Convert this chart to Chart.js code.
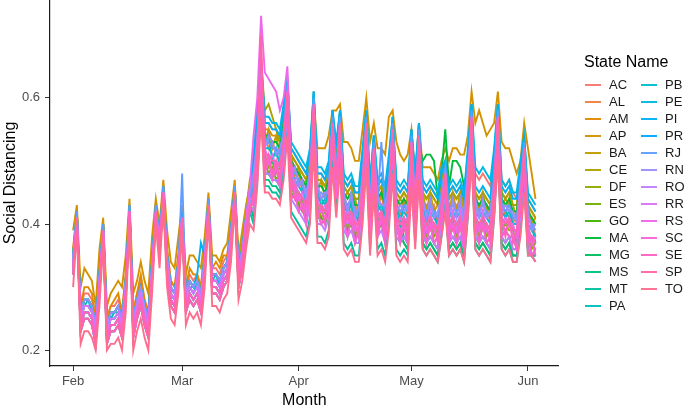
<!DOCTYPE html>
<html>
<head>
<meta charset="utf-8">
<script src="https://cdn.jsdelivr.net/npm/chart.js@4.4.1/dist/chart.umd.min.js"></script>
<style>
  html, body { margin: 0; padding: 0; background: #ffffff; }
  #wrap { width: 685px; height: 412px; position: relative; }
</style>
</head>
<body>
<div id="wrap"><canvas id="c" width="685" height="412"></canvas></div>
<script>
// Daily social distancing index (in percent), Feb 1 2020 (day 0) to Jun 3 2020 (day 123)
const stateNames = ['AC','AL','AM','AP','BA','CE','DF','ES','GO','MA','MG','MS','MT','PA',
                    'PB','PE','PI','PR','RJ','RN','RO','RR','RS','SC','SE','SP','TO'];
const tickDays = [0, 29, 60, 90, 121];
const tickLabels = ['Feb', 'Mar', 'Apr', 'May', 'Jun'];
const yTicks = [0.2, 0.4, 0.6];

const AC = [36,42,27,29,29,28,25,33,40,25, 27,27,28,26,32,43,26,29,31,28, 26,35,43,39,46,36,31,30,35,42, 30,32,31,32,30,36,44,33,33,32, 34,35,40,46,34,37,42,46,
  50,57,65,56,56,55,55,54,58,62, 52,51,50,49,48,51,60,48,48,47, 49,57,52,57,47,46,47,45,45,51, 57,46,53,46,47,45,50,56,46,45, 46,45,54,47,55,46,45,46,45,44, 48,49,45,46,45,46,44,51,58,48, 47,48,47,46,51,58,47,46,47,45, 44,49,53,44,43,42];
const AL = [35,42,26,28,28,27,24,32,40,24, 26,26,27,25,31,43,25,28,30,27, 25,34,43,38,46,35,30,29,34,42, 29,31,30,31,29,35,44,32,32,31, 33,34,39,46,33,36,41,45,
  46,55,63,54,52,53,51,52,56,60, 50,47,48,45,46,47,58,46,44,45, 45,57,48,55,45,42,43,43,41,49, 55,44,51,42,45,41,48,54,44,41, 44,41,52,43,55,42,43,42,43,40, 46,47,43,42,43,42,42,47,58,42, 43,42,43,40,49,56,44,41,44,40, 42,45,53,40,41,38];
const AM = [36,42,27,30,30,29,25,33,40,25, 27,28,29,26,32,43,26,29,32,28, 26,35,43,39,46,36,31,30,35,42, 30,33,32,32,30,36,44,33,34,33, 35,35,40,46,34,37,42,46,
  49,56,65,55,55,54,54,53,57,62, 51,50,49,48,47,50,60,47,47,46, 48,57,51,57,46,45,46,44,44,50, 57,45,53,45,46,44,49,56,45,44, 45,44,54,46,55,45,44,45,44,43, 47,49,44,45,44,45,43,50,58,45, 44,45,44,43,50,58,45,44,45,43, 43,48,53,43,42,41];
const AP = [39,43,30,33,32,31,27,36,41,27, 29,30,31,30,35,44,29,31,34,31, 29,38,44,40,47,39,34,33,38,43, 32,35,35,34,33,38,45,35,35,34, 36,37,42,47,35,39,43,46,
  48,53,62,53,53,52,52,51,55,61, 50,49,48,47,46,50,60,52,52,52, 54,58,58,59,53,53,52,50,50,55, 60,53,56,52,52,51,57,58,53,51, 50,51,55,48,56,49,49,49,48,47, 50,52,50,52,52,51,51,54,61,56, 58,56,54,55,56,61,53,52,52,50, 48,50,56,52,48,44];
const BA = [35,41,26,28,28,27,24,32,39,24, 26,26,27,25,31,42,25,28,30,27, 25,34,42,38,45,35,30,29,34,41, 29,31,30,31,29,35,43,32,32,31, 33,34,39,45,33,36,41,45,
  49,54,65,53,55,52,54,51,57,60, 51,48,49,46,47,48,60,45,47,44, 48,55,51,57,44,45,44,44,42,50, 55,45,51,45,44,44,47,56,43,44, 43,44,52,46,53,45,42,45,42,43, 45,49,42,45,42,45,41,50,56,45, 42,45,42,43,48,58,43,44,43,43, 41,48,51,43,40,41];
const CE = [35,42,26,28,28,27,24,32,40,24, 26,26,27,25,31,43,25,28,30,27, 25,34,43,38,46,35,30,29,34,42, 29,31,30,31,29,35,44,32,32,31, 33,34,39,46,33,37,42,47,
  49,56,66,58,59,57,55,53,57,63, 51,50,49,48,47,50,61,47,47,46, 48,58,51,58,46,45,46,44,44,50, 58,45,54,45,46,44,49,57,45,44, 45,44,55,46,56,45,44,45,44,43, 47,50,44,45,44,45,43,50,59,45, 44,45,44,43,50,59,45,44,45,43, 43,48,54,43,42,41];
const DF = [34,41,25,27,27,26,23,31,39,23, 25,25,26,24,30,42,24,27,29,26, 24,33,42,37,45,34,29,28,33,41, 28,30,29,30,28,34,43,31,31,30, 32,33,38,45,32,35,40,44,
  45,50,62,51,49,50,48,49,51,61, 45,46,43,44,41,46,57,43,41,42, 42,56,45,54,42,39,42,38,40,44, 56,39,52,41,40,40,43,55,39,40, 39,40,51,42,52,41,38,41,38,39, 41,48,38,41,38,41,37,46,55,41, 38,41,38,39,44,57,39,40,39,39, 37,44,50,39,36,37];
const ES = [33,40,24,26,26,25,22,30,38,22, 24,24,25,23,29,41,23,26,28,25, 23,32,41,36,44,33,28,27,32,40, 27,29,28,29,27,33,42,30,30,29, 31,32,37,44,31,34,39,43,
  42,51,60,50,48,49,47,48,50,59, 44,45,42,43,40,45,55,42,40,41, 41,54,44,52,41,38,41,37,39,43, 54,38,50,38,41,37,44,51,40,37, 40,37,49,41,50,40,37,40,37,38, 40,46,37,40,37,40,36,45,53,40, 37,40,37,38,43,55,38,39,38,38, 36,43,48,38,35,36];
const GO = [33,41,24,26,26,25,22,30,39,22, 24,24,25,23,29,42,23,26,28,25, 23,32,42,36,45,33,28,27,32,41, 27,29,28,29,27,33,43,30,30,29, 31,32,37,45,31,34,39,43,
  42,49,61,48,48,47,47,46,50,58, 45,44,43,42,41,44,56,41,41,40, 42,53,45,53,40,39,40,38,38,44, 53,39,49,39,40,38,43,52,39,38, 37,36,49,38,50,37,36,37,36,35, 39,44,36,37,36,37,35,42,53,37, 36,37,36,35,42,53,37,36,37,35, 35,40,48,36,35,35];
const MA = [35,41,26,28,28,27,24,32,39,24, 26,26,27,25,31,42,25,28,30,27, 25,34,42,38,45,35,30,29,34,41, 29,31,30,31,29,35,43,32,32,31, 33,34,39,45,33,36,41,45,
  48,55,63,54,54,53,53,52,56,60, 50,49,48,47,46,49,58,46,46,45, 47,55,50,55,45,44,45,43,43,49, 55,44,51,44,45,43,48,54,44,43, 44,43,52,45,53,50,51,51,50,44, 48,55,46,50,50,49,46,49,56,44, 43,44,43,42,49,56,44,43,44,42, 42,47,51,42,41,40];
const MG = [33,40,24,26,26,25,22,30,38,22, 24,24,25,23,29,41,23,26,28,25, 23,32,41,36,44,33,28,27,32,40, 27,29,28,29,27,33,42,30,30,29, 31,32,37,44,31,34,39,43,
  42,49,60,48,48,47,47,46,50,57, 47,46,45,44,43,46,56,43,43,42, 44,53,47,53,42,41,42,40,40,46, 53,41,49,41,42,40,45,52,41,40, 38,37,49,39,50,38,37,38,37,36, 40,44,37,38,37,38,36,43,53,38, 37,38,37,36,43,53,38,37,38,36, 36,41,48,36,35,34];
const MS = [33,41,24,26,26,25,22,30,39,22, 24,24,25,23,29,42,23,26,28,25, 23,32,42,36,45,33,28,27,32,41, 27,29,28,29,27,33,43,30,30,29, 31,32,37,45,31,34,39,43,
  41,48,59,47,47,46,46,45,49,56, 46,45,44,43,42,45,56,42,42,41, 43,53,46,53,41,40,41,39,39,45, 53,40,49,40,41,39,44,52,40,39, 37,36,48,38,49,37,36,37,36,35, 39,43,36,37,36,37,35,42,52,37, 36,37,36,35,42,52,37,36,37,35, 35,40,47,36,35,35];
const MT = [32,40,23,25,25,24,21,29,38,21, 23,23,24,22,28,41,22,25,27,24, 22,31,41,35,44,32,27,26,31,40, 26,28,27,28,26,32,42,29,29,28, 30,31,36,44,30,33,38,42,
  40,47,59,46,46,45,45,44,48,56, 42,41,40,39,38,41,54,38,38,37, 39,51,42,51,37,36,37,35,35,41, 51,36,47,36,37,35,40,50,36,35, 36,35,48,37,49,36,35,36,35,34, 38,43,35,36,35,36,34,41,52,36, 35,36,35,34,41,52,36,35,36,34, 34,39,47,35,35,35];
const PA = [34,41,25,27,28,26,23,31,39,23, 25,26,26,24,30,42,24,27,29,26, 24,33,42,37,45,34,29,28,33,41, 28,30,30,30,28,34,43,31,32,30, 32,33,38,45,32,35,40,44,
  46,52,62,53,54,50,52,49,55,59, 49,45,47,46,43,48,57,45,43,44, 46,54,47,56,44,41,44,42,40,48, 54,43,50,43,42,42,47,53,43,40, 43,42,51,44,52,43,40,43,42,39, 45,46,42,41,42,43,41,46,55,43, 42,41,42,41,46,55,43,42,41,41, 41,44,50,41,40,37];
const PB = [34,41,26,27,27,26,23,31,39,23, 25,25,26,25,30,42,24,27,29,27, 24,33,42,37,45,34,29,28,33,41, 28,30,29,31,28,34,43,31,31,31, 32,33,38,45,32,35,40,44,
  46,53,64,52,52,51,51,50,54,61, 48,47,46,45,44,47,59,44,44,43, 45,56,48,56,43,42,43,41,41,47, 56,42,52,42,43,41,46,55,42,41, 42,41,53,43,54,42,41,42,41,40, 44,48,41,42,41,42,40,47,57,42, 41,42,41,40,47,57,42,41,42,40, 40,45,52,40,39,38];
const PE = [35,41,26,28,28,27,24,32,39,24, 26,26,27,25,31,42,25,28,30,27, 25,34,42,38,45,35,30,29,34,41, 29,31,30,31,29,35,43,32,32,31, 33,34,39,45,33,36,41,45,
  51,58,66,57,57,56,56,55,59,63, 53,52,51,50,49,52,61,49,49,48, 50,58,53,58,48,47,48,46,46,52, 58,47,54,47,48,46,51,57,47,46, 47,46,55,48,56,47,46,47,46,45, 49,50,46,47,46,47,45,52,59,49, 48,49,48,47,52,59,47,46,47,45, 45,50,54,45,44,43];
const PI = [35,42,26,28,28,27,24,32,40,24, 26,26,27,25,31,43,25,28,30,27, 25,34,43,38,46,35,30,29,34,42, 29,31,30,32,37,35,44,32,32,31, 33,34,39,46,33,36,41,45,
  50,57,66,56,56,55,55,54,58,63, 52,51,50,49,48,51,61,48,48,47, 49,58,52,58,47,46,47,45,45,51, 58,46,54,46,47,45,50,57,46,45, 46,45,55,47,56,46,45,46,45,44, 48,50,45,46,45,46,44,51,59,46, 45,46,45,44,51,59,46,45,46,44, 44,49,54,44,43,42];
const PR = [32,40,23,25,25,24,21,29,38,21, 23,23,24,22,28,41,22,25,27,24, 22,31,41,35,44,32,27,26,31,40, 26,28,27,28,26,32,42,29,29,28, 30,31,36,44,30,33,38,42,
  45,52,62,51,51,50,50,49,53,59, 47,46,45,44,43,46,57,43,43,42, 44,54,47,54,42,41,42,40,40,46, 54,41,50,41,42,40,45,53,41,40, 41,40,51,42,52,41,40,41,40,39, 43,46,40,41,40,41,39,46,55,41, 40,41,40,39,46,55,41,40,41,39, 39,44,50,39,38,37];
const RJ = [34,42,25,27,27,26,23,31,40,23, 25,25,26,24,30,43,24,27,29,26, 24,33,43,37,46,34,29,28,33,48, 28,30,29,30,28,34,44,31,31,30, 32,33,38,46,32,35,40,44,
  47,54,65,53,53,52,52,51,55,62, 49,48,47,46,45,48,60,45,45,44, 46,57,49,57,44,43,44,42,42,48, 57,43,53,43,53,42,47,56,43,42, 43,42,54,44,55,43,42,43,42,41, 45,49,42,43,42,43,41,48,58,43, 42,43,42,41,48,58,43,42,43,41, 41,46,53,41,40,39];
const RN = [35,41,26,28,28,27,24,32,39,24, 26,26,27,25,31,42,25,28,30,27, 25,34,42,38,45,35,30,29,34,41, 29,31,30,31,29,35,43,32,32,31, 33,34,39,45,33,36,41,45,
  48,53,64,52,54,53,51,52,54,61, 48,49,46,47,44,49,57,46,44,45, 45,56,48,54,45,42,45,41,43,47, 56,42,52,44,43,43,46,55,42,43, 42,43,51,45,52,44,41,44,41,42, 44,48,41,44,41,44,40,49,55,44, 41,44,41,42,47,57,42,43,42,42, 40,47,50,42,39,40];
const RO = [33,41,24,26,26,25,22,30,39,22, 24,24,25,23,29,42,23,26,28,25, 23,32,42,36,45,33,28,27,32,41, 27,29,28,29,27,33,43,30,30,29, 31,32,37,45,31,34,39,43,
  42,49,61,48,48,47,47,46,50,58, 44,43,42,41,40,43,56,40,40,39, 41,53,44,53,39,38,39,37,37,43, 53,38,49,38,39,37,42,52,38,37, 38,37,50,39,51,38,37,38,37,36, 40,45,37,38,37,38,36,43,54,38, 37,38,37,36,43,54,38,37,38,36, 36,41,49,36,35,34];
const RR = [34,41,25,27,27,26,23,31,39,23, 25,25,26,24,30,42,24,27,29,26, 24,33,42,37,45,34,29,28,33,41, 28,30,29,30,28,34,43,31,31,30, 32,33,38,45,32,35,40,44,
  44,53,62,52,50,51,49,50,52,61, 46,47,44,45,42,47,57,44,42,43, 43,56,46,56,41,42,41,41,39,47, 54,42,50,42,41,41,44,55,40,41, 40,41,51,43,52,42,39,42,39,40, 42,48,39,42,39,42,38,47,55,42, 39,42,39,40,45,57,40,41,40,40, 38,45,50,40,37,38];
const RS = [33,41,24,26,26,25,22,30,39,22, 24,24,25,23,29,42,23,26,28,25, 23,32,42,36,45,33,28,27,32,41, 27,29,28,29,27,33,43,30,30,29, 31,32,37,45,31,35,41,46,
  54,60,73,64,63,62,61,58,60,65, 50,45,44,43,42,45,59,42,42,41, 43,56,46,56,41,40,41,39,39,45, 56,40,52,40,41,39,44,55,40,39, 40,39,53,41,54,40,39,40,39,38, 42,48,39,40,39,40,38,45,57,40, 39,40,39,38,45,57,40,39,40,38, 38,43,52,38,37,36];
const SC = [32,40,23,25,25,24,21,29,38,21, 23,23,24,22,28,41,22,25,27,24, 22,31,41,35,44,32,27,26,31,40, 26,28,27,28,26,32,42,29,29,28, 30,31,36,44,30,33,38,42,
  44,49,63,48,50,47,49,46,52,58, 44,45,42,43,40,45,56,42,40,41, 41,55,44,53,41,38,41,37,39,43, 55,38,51,38,41,37,44,52,40,37, 40,37,50,41,51,40,37,40,37,38, 40,47,37,40,37,40,36,45,54,40, 37,40,37,38,43,56,38,39,38,38, 36,43,49,38,35,36];
const SE = [33,41,24,26,26,25,22,30,39,22, 24,24,25,23,29,42,23,26,28,25, 23,32,42,36,45,33,28,27,32,41, 27,29,28,29,27,33,43,30,30,29, 31,32,37,45,31,34,39,43,
  43,52,61,49,51,48,50,47,53,58, 47,44,45,42,43,44,58,41,43,40, 44,53,47,55,40,41,40,40,38,46, 53,41,49,39,42,38,45,52,41,38, 41,38,52,40,53,39,40,39,40,37, 43,45,40,39,40,39,39,44,56,39, 40,39,40,37,46,54,41,38,41,37, 39,42,51,37,38,35];
const SP = [32,41,23,25,25,24,21,29,39,21, 23,23,24,22,28,42,22,25,27,24, 22,31,42,35,45,32,27,26,31,41, 26,28,27,28,26,32,43,29,29,28, 30,31,36,45,30,33,38,42,
  45,52,70,51,51,50,50,49,53,61, 47,46,45,44,43,46,59,43,43,42, 44,56,47,56,42,41,42,40,40,46, 56,41,52,41,42,40,45,55,41,40, 41,40,53,42,54,41,40,41,40,39, 43,48,40,41,40,41,39,46,57,41, 40,41,40,39,46,57,41,40,41,39, 39,44,52,39,38,37];
const TO = [30,39,21,23,23,22,20,27,37,20, 21,21,22,20,26,40,20,23,25,22, 20,29,40,33,43,30,25,24,29,39, 24,26,25,26,24,30,41,27,27,26, 28,29,34,43,28,31,36,40,
  39,46,57,45,45,44,44,43,47,54, 41,40,39,38,37,40,52,37,37,36, 38,49,41,49,36,35,36,34,34,40, 49,35,45,35,36,34,39,48,35,34, 35,34,46,36,47,36,35,36,35,34, 38,42,35,36,35,36,34,41,50,36, 35,36,35,34,41,50,36,35,36,34, 34,38,45,35,35,34];

const seriesList = [AC,AL,AM,AP,BA,CE,DF,ES,GO,MA,MG,MS,MT,PA,PB,PE,PI,PR,RJ,RN,RO,RR,RS,SC,SE,SP,TO];

// ggplot2 default hue palette (HCL, c=100, l=65)
function hclHex(h, c, l) {
  const Xn = 0.95047, Yn = 1.0, Zn = 1.08883;
  const hr = h * Math.PI / 180;
  const U = c * Math.cos(hr), V = c * Math.sin(hr);
  const Y = l > 8 ? Yn * Math.pow((l + 16) / 116, 3) : Yn * l / 903.296;
  const den = Xn + 15 * Yn + 3 * Zn;
  const un = 4 * Xn / den, vn = 9 * Yn / den;
  const u = U / (13 * l) + un, v = V / (13 * l) + vn;
  const X = 9 * Y * u / (4 * v);
  const Z = -X / 3 - 5 * Y + 3 * Y / v;
  const lin = [3.240479 * X - 1.537150 * Y - 0.498535 * Z,
               -0.969256 * X + 1.875992 * Y + 0.041556 * Z,
               0.055648 * X - 0.204043 * Y + 1.057311 * Z];
  return '#' + lin.map(t => {
    let g = t <= 0.0031308 ? 12.92 * t : 1.055 * Math.pow(t, 1 / 2.4) - 0.055;
    g = Math.max(0, Math.min(1, g));
    return Math.round(g * 255).toString(16).padStart(2, '0');
  }).join('');
}
const n = stateNames.length;
const colors = stateNames.map((s, k) => hclHex(15 + 360 * k / n, 100, 65));

const FONT = "'Liberation Sans', Arial, Helvetica, sans-serif";
const LINE_W = 1.9;

const datasets = stateNames.map((name, k) => ({
  label: name,
  data: seriesList[k].map((v, i) => ({ x: i, y: v / 100 })),
  borderColor: colors[k],
  backgroundColor: colors[k],
  borderWidth: LINE_W,
  pointRadius: 0,
  tension: 0,
  fill: false,
  order: n - k
}));

const decor = {
  id: 'decor',
  afterDraw(chart) {
    const ctx = chart.ctx;
    const ca = chart.chartArea;
    ctx.save();
    ctx.fillStyle = '#000000';
    ctx.font = '16px ' + FONT;
    ctx.textAlign = 'center';
    ctx.textBaseline = 'middle';
    ctx.fillText('Month', (ca.left + ca.right) / 2, 401);
    ctx.save();
    ctx.translate(11, (ca.top + ca.bottom) / 2);
    ctx.rotate(-Math.PI / 2);
    ctx.fillText('Social Distancing', 0, 0);
    ctx.restore();
    ctx.textAlign = 'left';
    ctx.font = '16px ' + FONT;
    ctx.fillText('State Name', 584, 63);
    ctx.font = '13px ' + FONT;
    const perCol = 14;
    stateNames.forEach((name, k) => {
      const col = k < perCol ? 0 : 1;
      const row = k < perCol ? k : k - perCol;
      const y = 85 + row * 17;
      const x0 = col === 0 ? 585 : 641;
      ctx.strokeStyle = colors[k];
      ctx.lineWidth = LINE_W;
      ctx.beginPath();
      ctx.moveTo(x0, y);
      ctx.lineTo(x0 + 16, y);
      ctx.stroke();
      ctx.fillStyle = '#1a1a1a';
      ctx.fillText(name, x0 + 24, y + 0.5);
    });
    ctx.restore();
  }
};

function noPad(scale) {
  scale.paddingTop = 0; scale.paddingBottom = 0;
  scale.paddingLeft = 0; scale.paddingRight = 0;
}

new Chart(document.getElementById('c'), {
  type: 'line',
  data: { datasets },
  options: {
    responsive: false,
    animation: false,
    events: [],
    layout: { padding: { left: 0, right: 126.4, top: 0, bottom: 0 } },
    plugins: { legend: { display: false }, tooltip: { enabled: false } },
    scales: {
      x: {
        type: 'linear',
        min: -6.15,
        max: 129.15,
        afterBuildTicks: (scale) => { scale.ticks = tickDays.map(v => ({ value: v })); },
        afterFit: (scale) => { scale.height = 46; noPad(scale); },
        ticks: {
          autoSkip: false, maxRotation: 0, padding: 3,
          color: '#4d4d4d', font: { family: FONT, size: 13 },
          callback: (v) => { const j = tickDays.indexOf(v); return j >= 0 ? tickLabels[j] : ''; }
        },
        grid: { display: true, drawOnChartArea: false, drawTicks: true, tickLength: 5, color: '#333333', lineWidth: 1 },
        border: { display: true, color: '#1a1a1a', width: 1.2 }
      },
      y: {
        type: 'linear',
        min: 0.175,
        max: 0.755,
        afterBuildTicks: (scale) => { scale.ticks = yTicks.map(v => ({ value: v })); },
        afterFit: (scale) => { scale.width = 50; noPad(scale); },
        ticks: {
          padding: 5, color: '#4d4d4d', font: { family: FONT, size: 13 },
          callback: (v) => v.toFixed(1)
        },
        grid: { display: true, drawOnChartArea: false, drawTicks: true, tickLength: 5, color: '#333333', lineWidth: 1 },
        border: { display: true, color: '#1a1a1a', width: 1.2 }
      }
    }
  },
  plugins: [decor]
});
</script>
</body>
</html>
